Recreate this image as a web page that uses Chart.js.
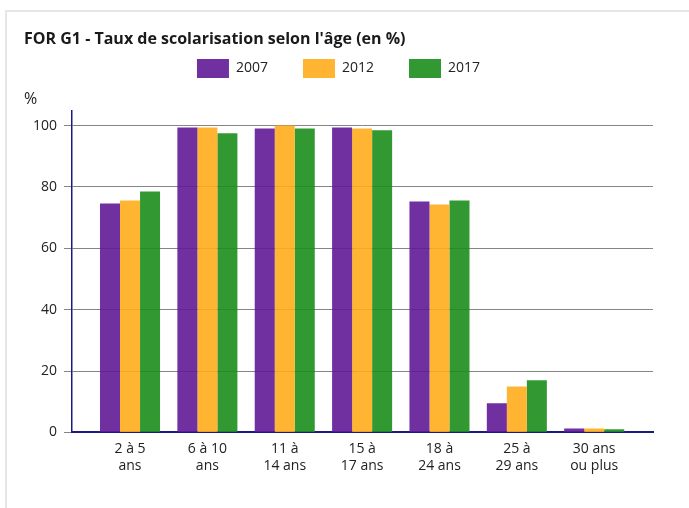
<!DOCTYPE html>
<html><head><meta charset="utf-8">
<script src="https://cdn.jsdelivr.net/npm/chart.js@4"></script>
<style>
html,body{margin:0;padding:0;background:#fff;width:689px;height:508px;overflow:hidden;}
#frame{position:absolute;left:5px;top:10px;width:720px;height:540px;border:2px solid #e6e6e6;box-sizing:border-box;}
#wrap{position:absolute;left:0;top:0;width:689px;height:508px;}
#title{position:absolute;left:24px;top:28px;margin:0;font:bold 16px/20px 'Open Sans','Noto Sans',sans-serif;color:#1a1a1a;white-space:nowrap;}
</style></head>
<body>
<div id="frame"></div>
<div id="wrap"><canvas id="c" width="689" height="508"></canvas></div>
<h1 id="title"></h1>
<script>
const categories = [['2 à 5','ans'],['6 à 10','ans'],['11 à','14 ans'],['15 à','17 ans'],['18 à','24 ans'],['25 à','29 ans'],['30 ans','ou plus']];
const seriesNames = ['2007','2012','2017'];
const values2007 = [74.6, 99.4, 99.1, 99.4, 75.3, 9.5, 1.3];
const values2012 = [75.6, 99.4, 100.0, 99.1, 74.3, 15.0, 1.3];
const values2017 = [78.5, 97.5, 99.1, 98.5, 75.6, 17.0, 1.0];
const yTicks = [0, 20, 40, 60, 80, 100];
const titleText = "FOR G1 - Taux de scolarisation selon l'âge (en %)";
const unitText = '%';

document.getElementById('title').textContent = titleText;

const colors = ['rgba(97,25,150,0.9)','rgba(255,173,28,0.9)','rgba(28,142,28,0.9)'];
const allValues = [values2007, values2012, values2017];

const FONT = "'Open Sans', 'Noto Sans', sans-serif";
Chart.defaults.font.family = FONT;

new Chart(document.getElementById('c'), {
  type: 'bar',
  data: {
    datasets: allValues.map((vals, k) => ({
      label: seriesNames[k],
      data: vals.map((v, i) => ({x: i, y: v})),
      backgroundColor: colors[k],
      borderWidth: 0,
      categoryPercentage: 0.776,
      barPercentage: 1.0
    }))
  },
  options: {
    responsive: false,
    animation: false,
    devicePixelRatio: 1,
    layout: {padding: {left: 24, right: 36, top: 24, bottom: 26}},
    plugins: {
      title: {display: false},
      legend: {
        display: true, position: 'top', align: 'center', weight: 1800,
        labels: {boxWidth: 32, boxHeight: 19, padding: 35, color: '#222', font: {size: 14, family: FONT}}
      },
      subtitle: {
        display: true, text: unitText, align: 'start', weight: 1500,
        color: '#222', font: {size: 16, family: FONT, lineHeight: 1.2},
        padding: {top: 2, bottom: 2}
      },
      tooltip: {enabled: false}
    },
    scales: {
      x: {
        type: 'linear', min: -0.75, max: 6.76, offset: false,
        afterBuildTicks: s => { s.ticks = categories.map((c, i) => ({value: i})); },
        grid: {display: false, drawTicks: false, offset: false},
        border: {display: true, color: '#1a1a80', width: 2},
        ticks: {
          autoSkip: false, maxRotation: 0, padding: 8, color: '#222',
          font: {size: 14, family: FONT, lineHeight: 1.2},
          callback: v => categories[v] || ''
        }
      },
      y: {
        min: 0, max: 104.7,
        afterBuildTicks: s => { s.ticks = yTicks.map(v => ({value: v})); },
        afterFit: s => { s.width = 48; },
        grid: {color: '#858585', lineWidth: 1, tickLength: 8, drawTicks: true},
        border: {display: true, color: '#1a1a80', width: 1.5},
        ticks: {padding: 7, color: '#222', font: {size: 14, family: FONT}}
      }
    }
  }
});
</script>
</body></html>
